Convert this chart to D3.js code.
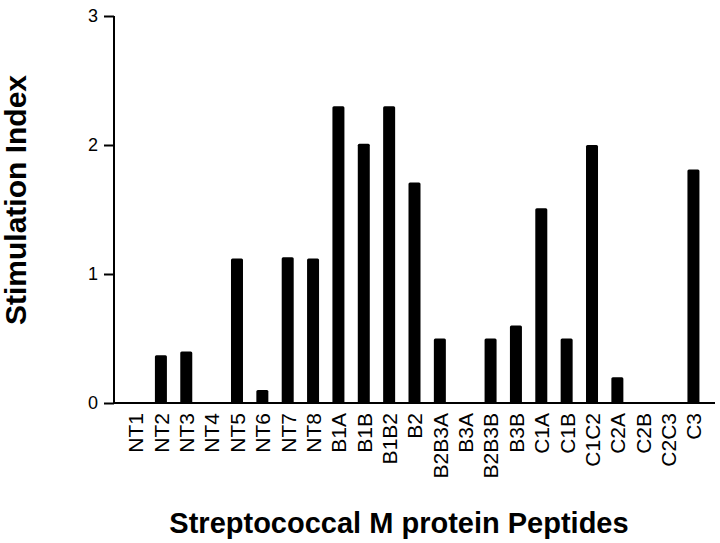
<!DOCTYPE html>
<html><head><meta charset="utf-8">
<script src="https://cdn.jsdelivr.net/npm/d3@7"></script>
<style>body{margin:0;background:#fff}svg{display:block}text{font-family:"Liberation Sans",Arial,sans-serif}</style>
</head><body>
<svg id="c" width="720" height="543"></svg>
<script>
const categories = ["NT1","NT2","NT3","NT4","NT5","NT6","NT7","NT8","B1A","B1B","B1B2","B2","B2B3A","B3A","B2B3B","B3B","C1A","C1B","C1C2","C2A","C2B","C2C3","C3"];
const values = [0,0.37,0.40,0,1.12,0.10,1.13,1.12,2.30,2.01,2.30,1.71,0.50,0,0.50,0.60,1.51,0.50,2.00,0.20,0,0,1.81];
const yTicks = [0,1,2,3];

const svg = d3.select("#c");
const x0 = 114, x1 = 715, yb = 403, yt = 16;
const x = d3.scalePoint().domain(categories).range([x0, x1]).padding(0.85);
const y = d3.scaleLinear().domain([0,3]).range([yb, yt]);
const bw = 12;

svg.append("g").selectAll("rect").data(categories).join("rect")
  .attr("x", d => x(d) - bw/2)
  .attr("width", bw)
  .attr("y", (d,i) => y(values[i]))
  .attr("height", (d,i) => yb - y(values[i]))
  .attr("rx", 1.5)
  .attr("fill", "#000");

// y axis
const ya = svg.append("g").attr("transform", `translate(${x0},0)`)
  .call(d3.axisLeft(y).tickValues(yTicks).tickSize(10).tickPadding(6).tickFormat(d3.format("d")));
ya.select(".domain").remove();
ya.selectAll(".tick line").attr("stroke", "#000").attr("stroke-width", 2);
ya.selectAll(".tick text").attr("font-size", 18).attr("fill", "#000");
svg.append("line").attr("x1", x0).attr("x2", x0).attr("y1", y(3)).attr("y2", yb + 1)
  .attr("stroke", "#000").attr("stroke-width", 2);

// x axis
svg.append("line").attr("x1", x0 - 1).attr("x2", x1).attr("y1", yb).attr("y2", yb)
  .attr("stroke", "#000").attr("stroke-width", 2);
const xa = svg.append("g").attr("transform", `translate(0,${yb})`)
  .call(d3.axisBottom(x).tickSize(0).tickPadding(0));
xa.select(".domain").remove();
xa.selectAll(".tick text")
  .attr("font-size", 21).attr("fill", "#000")
  .attr("text-anchor", "end")
  .attr("transform", "translate(0,10) rotate(-90)")
  .attr("x", 0).attr("y", 0).attr("dy", "0.35em");

svg.append("text").attr("transform", `translate(26,200) rotate(-90)`)
  .attr("text-anchor", "middle").attr("font-size", 30).attr("font-weight", "bold")
  .text("Stimulation Index");
svg.append("text").attr("x", 399).attr("y", 533)
  .attr("text-anchor", "middle").attr("font-size", 29).attr("font-weight", "bold")
  .text("Streptococcal M protein Peptides");
</script>
</body></html>
